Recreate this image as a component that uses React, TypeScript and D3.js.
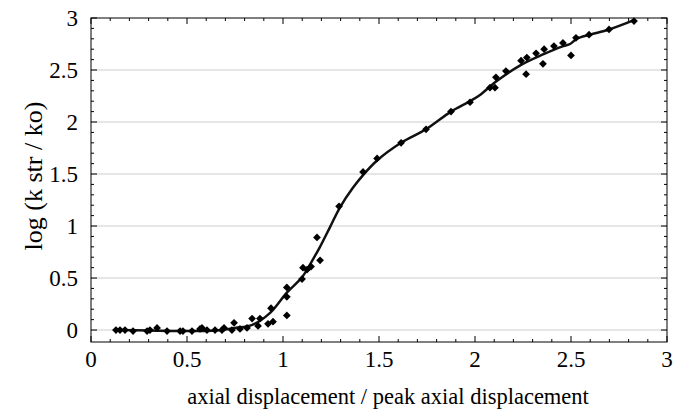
import React from "react";
import * as d3 from "d3";

const pointX = [0.13, 0.151, 0.177, 0.219, 0.292, 0.307, 0.344, 0.396, 0.464, 0.479, 0.526, 0.568, 0.578, 0.604, 0.646, 0.682, 0.693, 0.734, 0.745, 0.776, 0.8125, 0.839, 0.87, 0.88, 0.922, 0.9375, 0.948, 1.02, 1.02, 1.02, 1.099, 1.104, 1.125, 1.146, 1.177, 1.193, 1.292, 1.417, 1.49, 1.615, 1.745, 1.875, 1.974, 2.078, 2.104, 2.109, 2.161, 2.24, 2.27, 2.266, 2.318, 2.354, 2.36, 2.411, 2.458, 2.5, 2.526, 2.594, 2.698, 2.828];
const pointY = [0, 0, 0, -0.01, -0.01, 0, 0.02, -0.01, -0.01, -0.01, -0.01, 0.01, 0.02, 0, 0, 0, 0.02, 0, 0.07, 0.01, 0.02, 0.11, 0.04, 0.11, 0.06, 0.21, 0.08, 0.41, 0.32, 0.14, 0.49, 0.6, 0.58, 0.61, 0.89, 0.67, 1.19, 1.52, 1.65, 1.8, 1.93, 2.1, 2.19, 2.33, 2.33, 2.43, 2.49, 2.59, 2.62, 2.46, 2.66, 2.56, 2.7, 2.73, 2.76, 2.64, 2.81, 2.84, 2.89, 2.97];

const curveX = [0.13, 0.3, 0.5, 0.65, 0.75, 0.84, 0.93, 1.02, 1.1, 1.156, 1.19, 1.245, 1.297, 1.365, 1.417, 1.49, 1.615, 1.745, 1.875, 1.974, 2.026, 2.11, 2.24, 2.354, 2.46, 2.495, 2.53, 2.6, 2.698, 2.828];
const curveY = [0, -0.005, -0.01, -0.005, 0.02, 0.05, 0.16, 0.36, 0.51, 0.68, 0.79, 0.99, 1.18, 1.37, 1.49, 1.63, 1.8, 1.93, 2.1, 2.2, 2.26, 2.39, 2.55, 2.65, 2.73, 2.75, 2.8, 2.84, 2.89, 2.98];

const xTickLabels = ["0", "0.5", "1", "1.5", "2", "2.5", "3"];
const yTickLabels = ["0", "0.5", "1", "1.5", "2", "2.5", "3"];
const gridValues = [0, 0.5, 1, 1.5, 2, 2.5];

const W = 673, H = 410;
const L = 91, R = 667, T = 18, B = 342;
const txt = { fontFamily: "Liberation Serif", fill: "#000" } as React.CSSProperties;

export default function App() {
  const x = d3.scaleLinear().domain([0, 3]).range([L, R]);
  const y = d3.scaleLinear().domain([-0.115, 3]).range([B, T]);
  const line = d3.line<number>().x((d, i) => x(curveX[i])).y((d, i) => y(curveY[i])).curve(d3.curveCatmullRom.alpha(0.5));
  const diamond = d3.symbol().type(d3.symbolSquare).size(30)();
  const xMinor = d3.range(0, 31).map((i) => i / 10);
  const yMinor = d3.range(0, 31).map((i) => i / 10);
  return (
    <svg width={W} height={H} style={{ position: "absolute", left: 0, top: 0, background: "#fff" }}>
      {gridValues.map((v) => (
        <line key={"g" + v} x1={L} x2={R} y1={y(v)} y2={y(v)} stroke="#e6e6e6" strokeWidth={2} />
      ))}
      <rect x={L} y={T} width={R - L} height={B - T} fill="none" stroke="#000" strokeWidth={1} />
      {xMinor.map((v, i) => {
        const len = i % 5 === 0 ? 6 : 3;
        return (
          <g key={"xt" + i}>
            <line x1={x(v)} x2={x(v)} y1={B} y2={B - len} stroke="#000" />
            <line x1={x(v)} x2={x(v)} y1={T} y2={T + len} stroke="#000" />
          </g>
        );
      })}
      {yMinor.map((v, i) => {
        const len = i % 5 === 0 ? 6 : 3;
        return (
          <g key={"yt" + i}>
            <line x1={L} x2={L + len} y1={y(v)} y2={y(v)} stroke="#000" />
            <line x1={R} x2={R - len} y1={y(v)} y2={y(v)} stroke="#000" />
          </g>
        );
      })}
      {xTickLabels.map((t) => (
        <text key={"xl" + t} x={x(+t)} y={367} textAnchor="middle" fontSize={23} style={txt}>{t}</text>
      ))}
      {yTickLabels.map((t) => (
        <text key={"yl" + t} x={78} y={y(+t)} dy="0.34em" textAnchor="end" fontSize={23} style={txt}>{t}</text>
      ))}
      <text x={388} y={404} textAnchor="middle" fontSize={22.5} style={txt}>axial displacement / peak axial displacement</text>
      <text transform={`translate(42,176) rotate(-90)`} textAnchor="middle" fontSize={26} style={txt}>log (k str / ko)</text>
      <path d={line(curveX) || ""} fill="none" stroke="#111" strokeWidth={2.5} />
      {pointX.map((px, i) => (
        <path key={"p" + i} d={diamond} transform={`translate(${x(px)},${y(pointY[i])}) rotate(45)`} fill="#000" />
      ))}
    </svg>
  );
}
